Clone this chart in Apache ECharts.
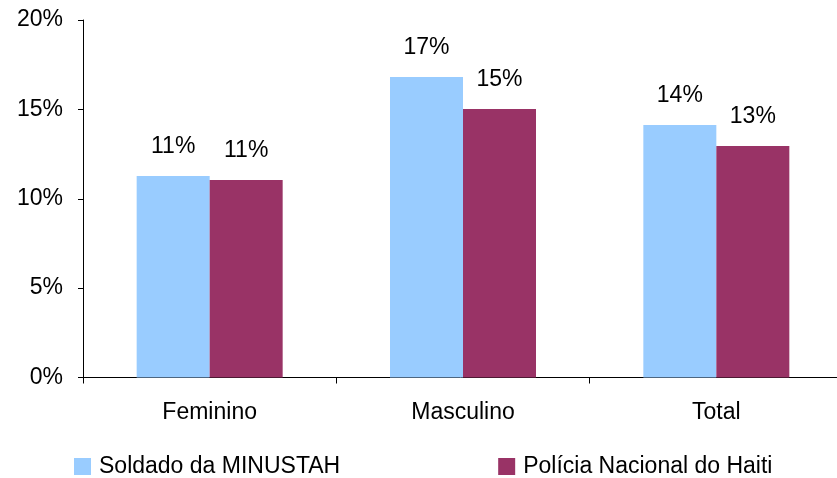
<!DOCTYPE html>
<html>
<head>
<meta charset="utf-8">
<script src="https://cdn.jsdelivr.net/npm/echarts@6/dist/echarts.min.js"></script>
<style>
  html, body { margin: 0; padding: 0; background: #fff; }
  #main { width: 837px; height: 478px; }
</style>
</head>
<body>
<div id="main"></div>
<script>
// dados
var categorias = ['Feminino', 'Masculino', 'Total'];
var soldado = [11.27, 16.81, 14.13];
var policia = [11.05, 15.02, 12.95];
var nomes = ['Soldado da MINUSTAH', 'Polícia Nacional do Haiti'];

var fonte = 'Liberation Sans, Arial, sans-serif';

var chart = echarts.init(document.getElementById('main'));

function rotulo() {
  return {
    show: true,
    position: 'top',
    distance: 18,
    color: '#000',
    fontFamily: fonte,
    fontSize: 23,
    formatter: function (p) { return Math.round(p.value) + '%'; }
  };
}

var option = {
  animation: false,
  backgroundColor: '#fff',
  grid: { left: 83, top: 20, width: 760, height: 357.5, outerBoundsMode: 'none' },
  legend: {
    left: 69,
    top: 450,
    itemWidth: 17,
    itemHeight: 17,
    itemGap: 158,
    icon: 'rect',
    textStyle: { fontFamily: fonte, fontSize: 23, color: '#000', padding: [0, 0, 0, 3] },
    data: nomes
  },
  xAxis: {
    type: 'category',
    data: categorias,
    axisLine: { lineStyle: { color: '#000', width: 1 } },
    axisTick: { show: true, length: 6, lineStyle: { color: '#000' } },
    axisLabel: { color: '#000', fontFamily: fonte, fontSize: 23, margin: 24 }
  },
  yAxis: {
    type: 'value',
    min: 0,
    max: 20,
    interval: 5,
    splitLine: { show: false },
    axisLine: { show: true, lineStyle: { color: '#000', width: 1 } },
    axisTick: { show: true, length: 5, lineStyle: { color: '#000' } },
    axisLabel: {
      color: '#000', fontFamily: fonte, fontSize: 23, margin: 20,
      formatter: '{value}%'
    }
  },
  series: [
    {
      name: nomes[0],
      type: 'bar',
      data: soldado,
      barWidth: 73,
      barGap: '0%',
      itemStyle: { color: '#99CCFF' },
      label: rotulo()
    },
    {
      name: nomes[1],
      type: 'bar',
      data: policia,
      barWidth: 73,
      barGap: '0%',
      itemStyle: { color: '#993366' },
      label: rotulo()
    }
  ]
};

chart.setOption(option);
</script>
</body>
</html>
